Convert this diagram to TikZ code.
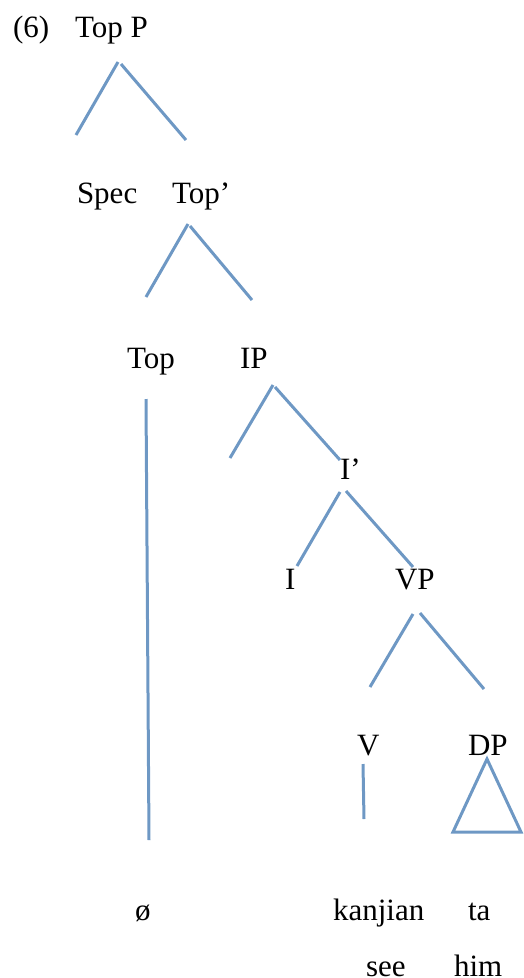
\documentclass[tikz,border=0pt]{standalone}
\usepackage{fontspec}
\setmainfont{Liberation Serif}
\definecolor{branch}{RGB}{110,152,196}
\begin{document}
\begin{tikzpicture}[x=1pt,y=-1pt,
  lbl/.style={anchor=base west,inner sep=0pt,outer sep=0pt,font=\fontsize{31}{37}\selectfont},
  edge/.style={draw=branch,line width=3pt}]
\useasboundingbox (0,0) rectangle (523,978);
% labels
\node[lbl] (ex)   at (13,37)  {(6)};
\node[lbl] (topp) at (75,37)  {Top P};
\node[lbl] (spec) at (77,203) {Spec};
\node[lbl] (topb) at (172,203) {Top’};
\node[lbl] (top)  at (127,368) {Top};
\node[lbl] (ip)   at (240,368) {IP};
\node[lbl] (ib)   at (340,479) {I’};
\node[lbl] (i)    at (285,589) {I};
\node[lbl] (vp)   at (395,589) {VP};
\node[lbl] (v)    at (357,755) {V};
\node[lbl] (dp)   at (468,755) {DP};
\node[lbl] (null) at (135,920) {ø};
\node[lbl] (kanjian) at (333,920) {kanjian};
\node[lbl] (ta)   at (468,920) {ta};
\node[lbl] (see)  at (366,976) {see};
\node[lbl] (him)  at (454,976) {him};
% branch end points
\coordinate (a1) at (118,62);  \coordinate (a2) at (121,64);
\coordinate (a3) at (76,135);  \coordinate (a4) at (186,140);
\coordinate (b1) at (188,224); \coordinate (b2) at (190,226);
\coordinate (b3) at (146,297); \coordinate (b4) at (252,300);
\coordinate (c1) at (146,399); \coordinate (c2) at (149,840);
\coordinate (d1) at (273,385); \coordinate (d2) at (275,387);
\coordinate (d3) at (230,458); \coordinate (d4) at (340,460);
\coordinate (e1) at (340,492); \coordinate (e2) at (346,491);
\coordinate (e3) at (297,566); \coordinate (e4) at (413,567);
\coordinate (f1) at (413,614); \coordinate (f2) at (420,613);
\coordinate (f3) at (370,687); \coordinate (f4) at (484,689);
\coordinate (g1) at (363,764); \coordinate (g2) at (364,819);
\coordinate (h1) at (487,759); \coordinate (h2) at (453,832);
\coordinate (h3) at (521,832);
% branches
\draw[edge] (a1) -- (a3);
\draw[edge] (a2) -- (a4);
\draw[edge] (b1) -- (b3);
\draw[edge] (b2) -- (b4);
\draw[edge] (c1) -- (c2);
\draw[edge] (d1) -- (d3);
\draw[edge] (d2) -- (d4);
\draw[edge] (e1) -- (e3);
\draw[edge] (e2) -- (e4);
\draw[edge] (f1) -- (f3);
\draw[edge] (f2) -- (f4);
\draw[edge] (g1) -- (g2);
\draw[edge,line join=miter] (h1) -- (h2) -- (h3) -- cycle;
\end{tikzpicture}
\end{document}
